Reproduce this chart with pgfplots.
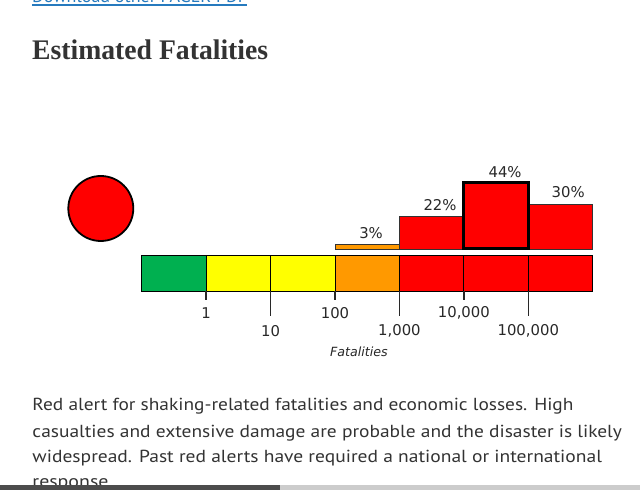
\documentclass[border=0pt]{standalone}
\usepackage{pgfplots}
\pgfplotsset{compat=1.18}
\usepackage{fontspec}
\setmainfont{PT Sans}
\newfontfamily\titlefont{Liberation Serif}
\newfontfamily\chartfont{DejaVu Sans}
\definecolor{pgreen}{RGB}{0,176,80}
\definecolor{pyellow}{RGB}{255,255,0}
\definecolor{porange}{RGB}{255,153,0}
\definecolor{pred}{RGB}{255,0,0}
\definecolor{txt}{RGB}{51,51,51}
\definecolor{ctxt}{RGB}{40,40,40}
\definecolor{linkc}{RGB}{38,122,190}
\begin{document}
\begin{tikzpicture}[x=1bp,y=1bp]
\fill[white] (0,0) rectangle (640,490);
\begin{scope}
\clip (0,0) rectangle (640,490);
% cut-off link at the top
\node[anchor=base west, inner sep=0, text=linkc] (lk) at (32,490-2.5)
  {\resizebox{215bp}{\height}{\fontsize{17.5}{17.5}\selectfont Download other PAGER PDF}};
\draw[linkc, line width=1.1bp] (32,490-5) -- (247,490-5);
\end{scope}
% title
\node[anchor=base west, inner sep=0, text=txt] at (32,490-60)
  {\resizebox{236bp}{\height}{\titlefont\bfseries\fontsize{28.5}{28.5}\selectfont Estimated Fatalities}};
% alert circle
\draw[fill=pred, line width=1.8bp] (100.8,490-208.5) circle (32.5);
\begin{axis}[at={(141.7bp,196bp)}, anchor=south west, scale only axis,
  width=451bp, height=114bp, xmin=0, xmax=7, ymin=-30, ymax=46,
  hide axis, clip=false]
% colour scale
\addplot[fill=pgreen, draw=black, line width=0.9bp] coordinates {(0,-4.5) (1,-4.5) (1,-28) (0,-28)} -- cycle;
\addplot[fill=pyellow, draw=black, line width=0.9bp] coordinates {(1,-4.5) (2,-4.5) (2,-28) (1,-28)} -- cycle;
\addplot[fill=pyellow, draw=black, line width=0.9bp] coordinates {(2,-4.5) (3,-4.5) (3,-28) (2,-28)} -- cycle;
\addplot[fill=porange, draw=black, line width=0.9bp] coordinates {(3,-4.5) (4,-4.5) (4,-28) (3,-28)} -- cycle;
\addplot[fill=pred, draw=black, line width=0.9bp] coordinates {(4,-4.5) (5,-4.5) (5,-28) (4,-28)} -- cycle;
\addplot[fill=pred, draw=black, line width=0.9bp] coordinates {(5,-4.5) (6,-4.5) (6,-28) (5,-28)} -- cycle;
\addplot[fill=pred, draw=black, line width=0.9bp] coordinates {(6,-4.5) (7,-4.5) (7,-28) (6,-28)} -- cycle;
% probability histogram
\addplot[fill=porange, draw=black!80, line width=0.9bp] coordinates {(3,0) (3,3) (4,3) (4,0)} -- cycle;
\addplot[fill=pred, draw=black!80, line width=0.9bp] coordinates {(4,0) (4,22) (5,22) (5,0)} -- cycle;
\addplot[fill=pred, draw=black!80, line width=0.9bp] coordinates {(6,0) (6,30) (7,30) (7,0)} -- cycle;
\addplot[fill=pred, draw=black, line width=3bp] coordinates {(5,0) (5,44) (6,44) (6,0)} -- cycle;
% percentage labels
\begin{scope}[every node/.style={font=\chartfont\fontsize{14.9}{15}\selectfont, text=ctxt}]
\node at (3.56,10.5) {3\%};
\node at (4.63,29.3) {22\%};
\node at (5.64,51.1) {44\%};
\node at (6.62,37.8) {30\%};
% ticks
\draw[ctxt, line width=1.4bp] (1,-28) -- (1,-34);
\draw[ctxt, line width=1.4bp] (2,-28) -- (2,-44.7);
\draw[ctxt, line width=1.4bp] (3,-28) -- (3,-34);
\draw[ctxt, line width=1.4bp] (4,-28) -- (4,-44.7);
\draw[ctxt, line width=1.4bp] (5,-28) -- (5,-34);
\draw[ctxt, line width=1.4bp] (6,-28) -- (6,-44.7);
\node at (1,-42.5) {1};
\node at (2,-54.5) {10};
\node at (3,-42.5) {100};
\node at (4,-54.5) {1,000};
\node at (5,-42.5) {10,000};
\node at (6,-54.5) {100,000};
\node[font=\chartfont\itshape\fontsize{12.7}{13}\selectfont] at (3.37,-68.7) {Fatalities};
\end{scope}
\end{axis}
% body text
\begin{scope}[every node/.style={anchor=base west, inner sep=0, text=txt}]
\node at (32.3,490-411) {\resizebox{541bp}{\height}{\fontsize{17.5}{17.5}\selectfont Red alert for shaking-related fatalities and economic losses. High}};
\node at (32.3,490-437.5) {\resizebox{589.4bp}{\height}{\fontsize{17.5}{17.5}\selectfont casualties and extensive damage are probable and the disaster is likely}};
\node at (32.3,490-462.5) {\resizebox{569.4bp}{\height}{\fontsize{17.5}{17.5}\selectfont widespread. Past red alerts have required a national or international}};
\node at (32.3,490-488) {\resizebox{76bp}{\height}{\fontsize{17.5}{17.5}\selectfont response}};
\end{scope}
% scrollbar
\fill[black!20] (0,0) rectangle (640,5);
\fill[black!70] (0,0) rectangle (280,5);
\pgfresetboundingbox
\path[use as bounding box] (0,0) rectangle (640,490);
\end{tikzpicture}
\end{document}
